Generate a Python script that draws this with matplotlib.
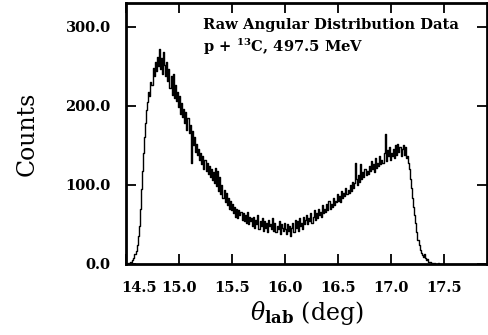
import numpy as np
import matplotlib
matplotlib.use("Agg")
import matplotlib.pyplot as plt
import matplotlib.transforms as mtransforms

plt.rcParams['font.family'] = 'DejaVu Serif'
plt.rcParams['mathtext.fontset'] = 'dejavuserif'

# histogram: bins of 0.01 deg starting at 14.50
bin_start = 14.50
bin_width = 0.01
counts = [
    0, 0, 1, 1, 2, 3, 5, 8, 12, 17,                    # 14.5
    24, 35, 48, 70, 95, 118, 140, 160, 178, 195,       # 14.6
    205, 218, 212, 230, 226, 248, 238, 255, 244, 262,  # 14.7
    250, 272, 246, 260, 240, 268, 252, 238, 256, 232,  # 14.8
    246, 222, 238, 214, 240, 210, 226, 206, 218, 198,  # 14.9
    212, 190, 204, 186, 196, 178, 192, 170, 184, 165,  # 15.0
    176, 128, 168, 150, 160, 142, 152, 138, 146, 132,  # 15.1
    140, 126, 136, 120, 132, 118, 128, 114, 124, 110,  # 15.2
    120, 106, 116, 102, 122, 98, 118, 92, 110, 88,     # 15.3
    100, 84, 94, 78, 90, 74, 84, 70, 80, 68,           # 15.4
    76, 64, 72, 60, 70, 58, 68, 62, 66, 56,            # 15.5
    64, 54, 62, 52, 66, 50, 60, 54, 58, 48,            # 15.6
    60, 46, 56, 50, 62, 44, 54, 48, 58, 42,            # 15.7
    54, 46, 52, 40, 56, 48, 50, 44, 58, 42,            # 15.8
    52, 40, 48, 44, 54, 38, 50, 46, 42, 52,            # 15.9
    44, 38, 50, 42, 48, 36, 46, 52, 40, 56,            # 16.0
    46, 54, 42, 58, 48, 52, 44, 60, 50, 56,            # 16.1
    62, 50, 58, 54, 64, 52, 60, 68, 56, 64,            # 16.2
    58, 70, 62, 66, 60, 74, 64, 70, 66, 76,            # 16.3
    68, 80, 70, 76, 72, 84, 74, 80, 78, 88,            # 16.4
    80, 86, 78, 92, 84, 90, 86, 96, 88, 94,            # 16.5
    90, 100, 92, 104, 96, 102, 128, 108, 100, 112,     # 16.6
    104, 126, 108, 116, 110, 120, 112, 118, 114, 124,  # 16.7
    118, 130, 120, 126, 116, 134, 122, 128, 124, 136,  # 16.8
    126, 132, 128, 140, 164, 130, 144, 136, 148, 132,  # 16.9
    140, 136, 146, 134, 150, 138, 152, 142, 148, 136,  # 17.0
    146, 150, 138, 148, 134, 136, 128, 120, 108, 96,   # 17.1
    84, 72, 62, 52, 40, 30, 24, 18, 14, 11,            # 17.2
    9, 12, 7, 5, 6, 3, 2, 3, 1, 1,                     # 17.3
    0, 1, 0, 0, 1, 0, 0, 0, 0, 0,                      # 17.4
]
x_ticks = [14.5, 15.0, 15.5, 16.0, 16.5, 17.0, 17.5]
y_ticks = [0, 100, 200, 300]

theta = bin_start + bin_width * (np.arange(len(counts)) + 0.5)

fig = plt.figure(figsize=(4.89, 3.35), dpi=100)
ax = fig.add_axes([0.2577, 0.212, 0.7382, 0.779])
ax.plot(theta, counts, drawstyle='steps-mid', color='black', lw=1.0)

ax.set_xlim(14.5, 17.906)
ax.set_ylim(0, 330)
ax.set_xticks(x_ticks)
ax.set_yticks(y_ticks)
ax.set_xticklabels([f"{v:.1f}" for v in x_ticks], fontweight='bold', fontsize=10.5)
ax.set_yticklabels([f"{v:.1f}" for v in y_ticks], fontweight='bold', fontsize=10.5)
ax.tick_params(direction='in', length=7, width=1.3, top=True, right=True)
ax.tick_params(axis='x', pad=12)
ax.tick_params(axis='y', pad=11)
# first x label sits right of the spine
lbl = ax.get_xticklabels()[0]
lbl.set_transform(lbl.get_transform() + mtransforms.ScaledTranslation(13 / 100, 0, fig.dpi_scale_trans))
for s in ax.spines.values():
    s.set_linewidth(2)

ax.set_ylabel("Counts", fontsize=17, labelpad=19)
ax.set_xlabel(r"$\theta_{\mathbf{lab}}$ (deg)", fontsize=17, labelpad=3)

ax.text(0.213, 0.916, "Raw Angular Distribution Data", transform=ax.transAxes,
        fontsize=10.6, fontweight='bold', va='center', ha='left')
ax.text(0.213, 0.831, r"p + $^{\mathbf{13}}$C, 497.5 MeV", transform=ax.transAxes,
        fontsize=10.6, fontweight='bold', va='center', ha='left')

fig.savefig("out.png", dpi=100)
